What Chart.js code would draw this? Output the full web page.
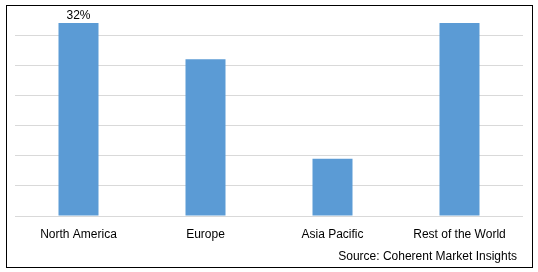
<!DOCTYPE html>
<html>
<head>
<meta charset="utf-8">
<script src="https://cdn.jsdelivr.net/npm/chart.js@4"></script>
<style>
  html, body { margin: 0; padding: 0; background: #fff; }
  #wrap { position: relative; width: 538px; height: 272px; }
  #frame { position: absolute; left: 6px; top: 5px; width: 525px; height: 261px; border: 1px solid #000; pointer-events: none; }
  #source { position: absolute; right: 21px; top: 249px; font: 12px "Liberation Sans", Arial, sans-serif; color: #000; }
  canvas { position: absolute; left: 0; top: 0; }
</style>
</head>
<body>
<div id="wrap">
  <canvas id="chart" width="538" height="272"></canvas>
  <div id="frame"></div>
  <div id="source">Source: Coherent Market Insights</div>
</div>
<script>
// market share by region
const regions = ["North America", "Europe", "Asia Pacific", "Rest of the World"];
const shares = [32, 26, 9.5, 32];
const valueLabels = ["32%", "", "", ""];

const FONT = "'Liberation Sans', Arial, sans-serif";

const labelPlugin = {
  id: "valueLabels",
  afterDatasetsDraw(chart) {
    const { ctx } = chart;
    const meta = chart.getDatasetMeta(0);
    ctx.save();
    ctx.font = "12px " + FONT;
    ctx.fillStyle = "#000";
    ctx.textAlign = "center";
    ctx.textBaseline = "bottom";
    meta.data.forEach((bar, i) => {
      if (!valueLabels[i]) return;
      ctx.fillText(valueLabels[i], bar.x, bar.y - 1);
    });
    ctx.restore();
  },
};

new Chart(document.getElementById("chart"), {
  type: "bar",
  data: {
    labels: regions,
    datasets: [{
      data: shares,
      backgroundColor: "#5b9bd5",
      categoryPercentage: 1,
      barPercentage: 0.315,
    }],
  },
  options: {
    responsive: false,
    animation: false,
    layout: { padding: { left: 15, right: 15, top: 5, bottom: 0 } },
    plugins: { legend: { display: false }, tooltip: { enabled: false } },
    scales: {
      x: {
        grid: { display: false, drawTicks: false },
        border: { display: false },
        ticks: { color: "#000", font: { family: FONT, size: 12 }, padding: 11, maxRotation: 0 },
        afterFit: (s) => { s.height = 56; },
      },
      y: {
        min: 0,
        max: 35,
        ticks: { display: false, stepSize: 5 },
        grid: { color: "#d9d9d9", drawTicks: false },
        border: { display: false },
        afterFit: (s) => { s.width = 0; },
      },
    },
  },
  plugins: [labelPlugin],
});
</script>
</body>
</html>
